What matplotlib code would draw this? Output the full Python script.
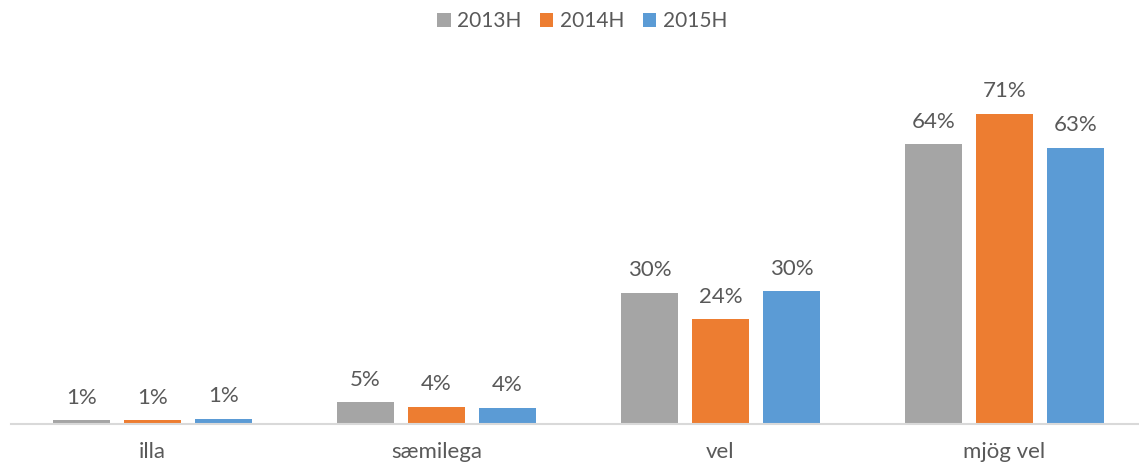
import matplotlib
matplotlib.use("Agg")
import matplotlib.pyplot as plt
import numpy as np

categories = ["illa", "sæmilega", "vel", "mjög vel"]
series_names = ["2013H", "2014H", "2015H"]
values_2013 = [0.9, 5.0, 30.0, 64.0]
values_2014 = [0.9, 4.0, 24.0, 71.0]
values_2015 = [1.2, 3.75, 30.4, 63.2]
series_values = [values_2013, values_2014, values_2015]
colors = ["#A5A5A5", "#ED7D31", "#5B9BD5"]
text_color = "#595959"

plt.rcParams['font.family'] = ['Lato', 'DejaVu Sans']

W, H = 1139, 466
fig = plt.figure(figsize=(W / 100, H / 100), dpi=100)
left_px, right_px = 10.5, 1146.5
bottom_px = 424
ymax = 80
px_per_unit = 4.372
height_px = ymax * px_per_unit
ax = fig.add_axes([left_px / W, (H - bottom_px) / H, (right_px - left_px) / W, height_px / H])

x = np.arange(len(categories))
bar_w = 57 / 284
step = 71 / 284
for i, (name, vals, c) in enumerate(zip(series_names, series_values, colors)):
    pos = x + (i - 1) * step
    bars = ax.bar(pos, vals, width=bar_w, color=c, label=name, zorder=2)
    for b, v in zip(bars, vals):
        ax.annotate(f"{v:.0f}%", (b.get_x() + b.get_width() / 2, v),
                    xytext=(0, 9), textcoords="offset points",
                    ha="center", va="bottom", fontsize=16, color=text_color)

ax.set_xlim(-0.5, len(categories) - 0.5)
ax.set_ylim(0, ymax)
ax.set_xticks(x)
ax.set_xticklabels(categories, fontsize=16, color=text_color)
ax.tick_params(axis='x', length=0, pad=13)
ax.set_yticks([])
for s in ["left", "right", "top"]:
    ax.spines[s].set_visible(False)
ax.spines["bottom"].set_color("#D9D9D9")
ax.spines["bottom"].set_linewidth(1.5)
ax.spines["bottom"].set_clip_on(False)

leg = fig.legend(loc="center", bbox_to_anchor=(582 / W, 1 - 21 / H), ncol=3,
                 frameon=False, fontsize=15, handlelength=0.65, handleheight=0.65,
                 handletextpad=0.3, columnspacing=0.9)
for t in leg.get_texts():
    t.set_color(text_color)

fig.savefig("out.png", dpi=100)
